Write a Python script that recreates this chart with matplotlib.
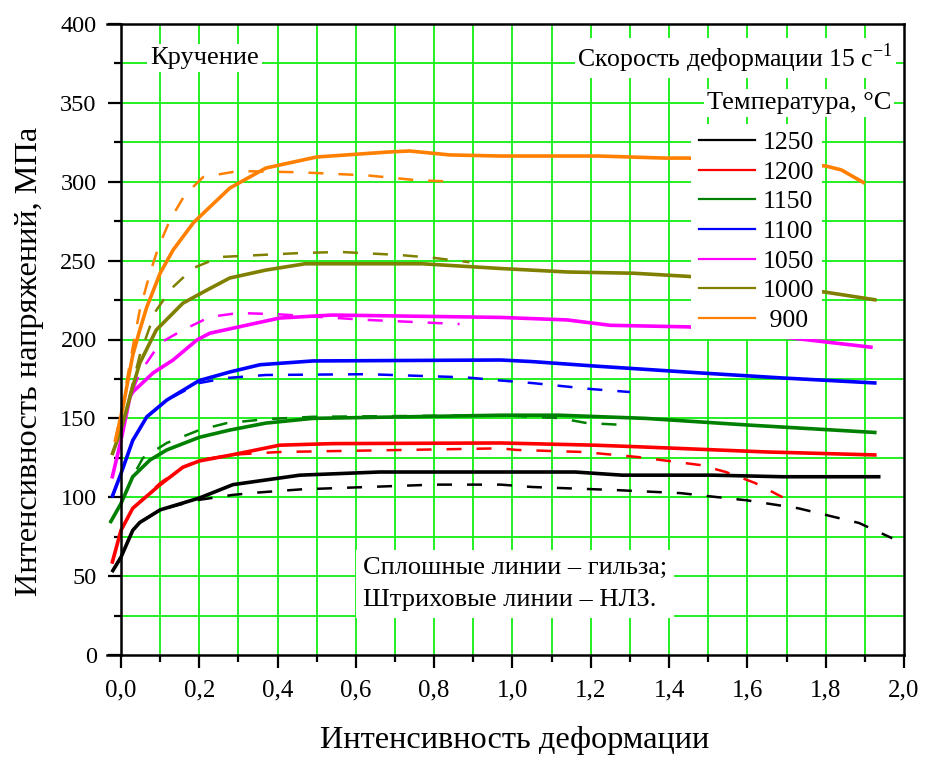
import matplotlib
matplotlib.use("Agg")
import matplotlib.pyplot as plt
from matplotlib.ticker import MultipleLocator, FuncFormatter
from matplotlib.lines import Line2D
import numpy as np

plt.rcParams['font.family'] = ['Liberation Serif', 'DejaVu Serif']
plt.rcParams['mathtext.fontset'] = 'custom'
plt.rcParams['mathtext.rm'] = 'Liberation Serif'

# Temperatures and colours
temps = ['1250', '1200', '1150', '1100', '1050', '1000', ' 900']
colors = ['#000000', '#FF0000', '#008000', '#0000FF', '#FF00FF', '#808000', '#FF8000']

# Solid lines: sleeve (гильза)
x_1250_s = [-0.023, 0.0, 0.03, 0.048, 0.1, 0.2, 0.286, 0.457, 0.66, 0.97, 1.16, 1.28, 1.51, 1.69, 1.94]
y_1250_s = [52.6, 62, 79, 84, 92, 99.5, 108, 114, 116, 116, 116, 114, 114, 113, 113]
x_1200_s = [-0.023, 0.0, 0.03, 0.1, 0.158, 0.2, 0.286, 0.405, 0.54, 0.97, 1.21, 1.32, 1.65, 1.93]
y_1200_s = [58, 79, 93, 108, 119, 123, 127, 133, 134, 134.4, 133, 132, 128.7, 126.8]
x_1150_s = [-0.028, 0.0, 0.03, 0.074, 0.117, 0.2, 0.278, 0.37, 0.49, 0.97, 1.12, 1.34, 1.6, 1.93]
y_1150_s = [83.7, 96, 113, 123.6, 130, 138, 142.6, 147, 150, 152, 152, 150, 145.8, 141]
x_1100_s = [-0.023, 0.0, 0.03, 0.066, 0.117, 0.2, 0.278, 0.355, 0.49, 0.97, 1.05, 1.22, 1.48, 1.69, 1.93]
y_1100_s = [100, 115, 136, 151, 161.6, 174, 179.4, 184, 186.4, 187, 186, 183, 178.8, 175.6, 172.4]
x_1050_s = [-0.023, 0.0, 0.023, 0.03, 0.082, 0.133, 0.194, 0.227, 0.405, 0.54, 0.97, 1.14, 1.25, 1.45, 1.69, 1.92]
y_1050_s = [112, 136, 163.6, 166.7, 178.8, 187, 199.7, 204, 213.6, 215.5, 214, 212.4, 209, 208, 201.6, 195]
x_1000_s = [-0.023, 0.0, 0.03, 0.048, 0.09, 0.158, 0.22, 0.278, 0.37, 0.47, 0.77, 0.97, 1.14, 1.31, 1.45, 1.8, 1.93]
y_1000_s = [126.8, 142.6, 170, 185, 206, 223, 231.4, 239, 244, 248, 248, 245, 242.8, 242, 240, 230, 225]
x_900_s = [-0.015, 0.005, 0.03, 0.048, 0.066, 0.1, 0.133, 0.185, 0.227, 0.278, 0.37, 0.5, 0.686, 0.737, 0.84, 0.97, 1.22, 1.39, 1.45, 1.8, 1.84, 1.9]
y_900_s = [135, 157, 190, 206, 220.6, 242, 256.7, 274, 284, 296, 308.7, 315.7, 318.9, 319.5, 317, 316.3, 316.3, 315, 315, 310, 307.5, 299]

# Dashed lines: continuous-cast billet (НЛЗ)
x_1250_d = [-0.023, 0.0, 0.03, 0.048, 0.1, 0.19, 0.286, 0.35, 0.46, 0.8, 0.97, 1.05, 1.26, 1.43, 1.6, 1.73, 1.885, 1.97]
y_1250_d = [52.6, 62, 79, 84, 92, 98, 101.5, 103, 105, 108, 108, 106.5, 104.6, 102.6, 98, 93, 83.7, 74]
x_1200_d = [-0.023, 0.0, 0.03, 0.1, 0.158, 0.2, 0.286, 0.405, 0.97, 1.01, 1.18, 1.32, 1.48, 1.545, 1.62, 1.69]
y_1200_d = [58, 79, 93, 109, 119, 123.6, 127, 128.7, 131, 130, 128.7, 125.5, 120.4, 116, 109, 100]
x_1150_d = [-0.028, 0.0, 0.03, 0.056, 0.117, 0.2, 0.27, 0.37, 0.49, 0.97, 1.12, 1.19, 1.29]
y_1150_d = [83.7, 96, 113, 124.9, 134.4, 142.6, 147, 149.5, 151, 152, 150.2, 147, 145.8]
x_1100_d = [-0.023, 0.0, 0.03, 0.066, 0.117, 0.2, 0.27, 0.37, 0.63, 0.88, 0.97, 1.05, 1.2, 1.3]
y_1100_d = [100, 115, 136, 151, 161.6, 172.4, 175.6, 177.5, 178, 176, 174, 172.4, 168.6, 166.7]
x_1050_d = [-0.023, 0.0, 0.023, 0.048, 0.1, 0.158, 0.227, 0.3, 0.4, 0.63, 0.865]
y_1050_d = [112, 136, 163.6, 178.8, 197.8, 206, 214.3, 216.8, 216, 212.4, 209.8]
x_1000_d = [-0.023, 0.0, 0.03, 0.048, 0.087, 0.13, 0.185, 0.253, 0.457, 0.56, 0.71, 0.8, 0.89]
y_1000_d = [126.8, 142.6, 172, 190, 217.4, 232.6, 245.3, 252.3, 254.8, 255.5, 253.6, 251.7, 249]
x_900_d = [-0.015, 0.005, 0.03, 0.048, 0.074, 0.095, 0.125, 0.163, 0.21, 0.3, 0.457, 0.63, 0.755, 0.857]
y_900_d = [135, 160, 195, 218.7, 242, 258, 275.7, 291.6, 303, 306.8, 306, 304, 301, 300]

solid = [(x_1250_s, y_1250_s), (x_1200_s, y_1200_s), (x_1150_s, y_1150_s), (x_1100_s, y_1100_s),
         (x_1050_s, y_1050_s), (x_1000_s, y_1000_s), (x_900_s, y_900_s)]
dashed = [(x_1250_d, y_1250_d), (x_1200_d, y_1200_d), (x_1150_d, y_1150_d), (x_1100_d, y_1100_d),
          (x_1050_d, y_1050_d), (x_1000_d, y_1000_d), (x_900_d, y_900_d)]

fig = plt.figure(figsize=(9.28, 7.57), dpi=100)
ax = fig.add_axes([107/928, 1-655/757, 797/928, 631/757])
ax.set_xlim(-0.0357, 2.0)
ax.set_ylim(0, 400)

# Green grid, starting at the y axis
grid_c = '#11EE11'
ax.vlines(np.arange(0.1, 2.0, 0.1), 0, 400, colors=grid_c, lw=1.3, zorder=0.5)
ax.hlines(np.arange(25, 400, 25), 0, 2.0, colors=grid_c, lw=1.3, zorder=0.5)

for (xs, ys), c in zip(dashed, colors):
    ax.plot(xs, ys, color=c, lw=1.8, ls=(0, (6, 6)), zorder=2)
for (xs, ys), c in zip(solid, colors):
    ax.plot(xs, ys, color=c, lw=2.6, solid_capstyle='butt', zorder=2.2)

# Axes styling
ax.spines['left'].set_position(('data', 0))
for s in ax.spines.values():
    s.set_linewidth(1.8)
    s.set_zorder(6)
ax.xaxis.set_major_locator(MultipleLocator(0.2))
ax.xaxis.set_minor_locator(MultipleLocator(0.1))
ax.yaxis.set_major_locator(MultipleLocator(50))
ax.yaxis.set_minor_locator(MultipleLocator(25))
ax.xaxis.set_major_formatter(FuncFormatter(lambda v, p: f"{v:.1f}".replace('.', ',')))
ax.yaxis.set_major_formatter(FuncFormatter(lambda v, p: f"{v:.0f}"))
ax.tick_params(which='both', direction='out', width=1.6, top=False, right=False)
ax.tick_params(which='major', length=9.5)
ax.tick_params(which='minor', length=5)
ax.tick_params(axis='x', which='major', pad=8, labelsize=18)
ax.tick_params(axis='y', which='major', pad=8, labelsize=17.5)

ax.set_xlabel('Интенсивность деформации', fontsize=23.3)
ax.xaxis.set_label_coords(0.511, -0.135)
ax.xaxis.label.set_va('center')
ax.set_ylabel('Интенсивность напряжений, МПа', fontsize=23.3)
ax.yaxis.set_label_coords(-0.097, 0.465)
ax.yaxis.label.set_va('center')

fs = 19
wb = dict(facecolor='white', edgecolor='none', pad=2)
ax.text(0.074, 378.5, 'Кручение', fontsize=fs, va='center', ha='left', bbox=wb, zorder=4)
ax.text(1.972, 378.5, 'Скорость деформации 15 с$^{\\mathregular{-1}}$', fontsize=18.5,
        va='center', ha='right', bbox=wb, zorder=4)
ax.text(1.967, 350, 'Температура, °C', fontsize=fs, va='center', ha='right', bbox=wb, zorder=4)
ax.text(0.617, 45, 'Сплошные линии – гильза;\nШтриховые линии – НЛЗ.', fontsize=fs,
        va='center', ha='left', linespacing=1.55,
        bbox=dict(facecolor='white', edgecolor='none', pad=5), zorder=4)

handles = [Line2D([], [], color=c, lw=1.6) for c in colors]
leg = ax.legend(handles, temps, loc='upper left', bbox_to_anchor=(0.733, 0.842),
                fontsize=18.5, frameon=True, fancybox=False, framealpha=1,
                edgecolor='none', facecolor='white', borderaxespad=0,
                borderpad=0.3, handlelength=2.2, handletextpad=0.3, labelspacing=0.255)
leg.set_zorder(5)

fig.savefig('out.png', dpi=100)
